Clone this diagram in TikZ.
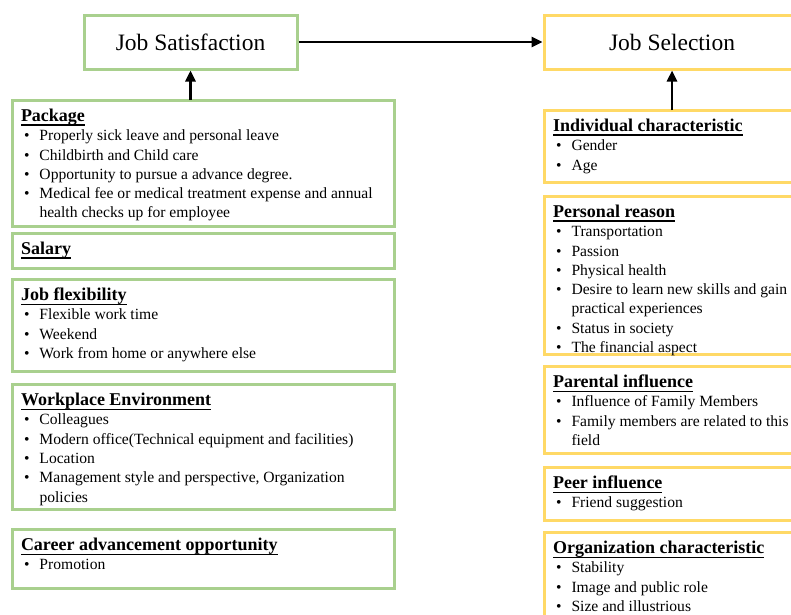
\documentclass[tikz,border=0pt]{standalone}
\usepackage{fontspec}
\setmainfont{Liberation Serif}
\usetikzlibrary{arrows.meta}
\definecolor{satgreen}{RGB}{169,208,142}
\definecolor{selyellow}{RGB}{255,217,102}
\tikzstyle{titlebox}=[draw, line width=3pt, minimum height=54pt, inner sep=0pt, font=\fontsize{23.5}{28}\selectfont]
\tikzstyle{factor}=[draw, line width=3pt, anchor=north west, inner xsep=9pt, inner ysep=9pt, outer sep=0pt]
\tikzstyle{link}=[line width=2.6pt, -{Triangle[length=11pt, width=10pt]}]
\newcommand{\factorhead}[1]{{\fontsize{18}{19.3}\selectfont\bfseries
  \setbox0\hbox{#1}\leavevmode\rlap{\rule[-4.5pt]{\wd0}{1.5pt}}\box0\par}}
\newcommand{\factoritem}[1]{\par\hangindent=18.5pt\hangafter=1\noindent\makebox[18.5pt][l]{\hspace{3pt}\textbullet}#1}
\newcommand{\factorbody}[3]{\parbox[t][#1][t]{#2}{\raggedright\parindent=0pt\fontsize{15.6}{19.3}\selectfont #3}}

\begin{document}
\begin{tikzpicture}[x=1pt, y=-1pt]
  \useasboundingbox (0,0) rectangle (791,614);
  \clip (0,0) rectangle (791,614);

  \node[titlebox, draw=satgreen, minimum width=213pt] (jobsat) at (190.5, 42) {Job Satisfaction};
  \node[titlebox, draw=selyellow, minimum width=256pt] (jobsel) at (672, 42) {Job Selection};

  \node[factor, draw=satgreen] (package) at (12, 100) {\factorbody{108pt}{364pt}{%
    \factorhead{Package}
    \factoritem{Properly sick leave and personal leave}
    \factoritem{Childbirth and Child care}
    \factoritem{Opportunity to pursue a advance degree.}
    \factoritem{Medical fee or medical treatment expense and annual\newline health checks up for employee}}};
  \node[factor, draw=satgreen] (salary) at (12, 233) {\factorbody{17pt}{364pt}{%
    \factorhead{Salary}}};
  \node[factor, draw=satgreen] (jobflex) at (12, 279) {\factorbody{74pt}{364pt}{%
    \factorhead{Job flexibility}
    \factoritem{Flexible work time}
    \factoritem{Weekend}
    \factoritem{Work from home or anywhere else}}};
  \node[factor, draw=satgreen] (workplace) at (12, 384) {\factorbody{107pt}{364pt}{%
    \factorhead{Workplace Environment}
    \factoritem{Colleagues}
    \factoritem{Modern office(Technical equipment and facilities)}
    \factoritem{Location}
    \factoritem{Management style and perspective, Organization\newline policies}}};
  \node[factor, draw=satgreen] (career) at (12, 529) {\factorbody{41pt}{364pt}{%
    \factorhead{Career advancement opportunity}
    \factoritem{Promotion}}};

  \node[factor, draw=selyellow] (indiv) at (544, 110) {\factorbody{54pt}{272pt}{%
    \factorhead{Individual characteristic}
    \factoritem{Gender}
    \factoritem{Age}}};
  \node[factor, draw=selyellow] (personal) at (544, 196) {\factorbody{140pt}{272pt}{%
    \factorhead{Personal reason}
    \factoritem{Transportation}
    \factoritem{Passion}
    \factoritem{Physical health}
    \factoritem{Desire to learn new skills and gain\newline practical experiences}
    \factoritem{Status in society}
    \factoritem{The financial aspect}}};
  \node[factor, draw=selyellow] (parental) at (544, 366) {\factorbody{69pt}{272pt}{%
    \factorhead{Parental influence}
    \factoritem{Influence of Family Members}
    \factoritem{Family members are related to this\newline field}}};
  \node[factor, draw=selyellow] (peer) at (544, 467) {\factorbody{35pt}{272pt}{%
    \factorhead{Peer influence}
    \factoritem{Friend suggestion}}};
  \node[factor, draw=selyellow] (orgchar) at (544, 532) {\factorbody{92pt}{272pt}{%
    \factorhead{Organization characteristic}
    \factoritem{Stability}
    \factoritem{Image and public role}
    \factoritem{Size and illustrious}}};

  \draw[link] (jobsat) -- (jobsel);
  \draw[link] (jobsat.south |- package.north) -- (jobsat.south);
  \draw[link] (jobsel.south |- indiv.north) -- (jobsel.south);
\end{tikzpicture}
\end{document}
